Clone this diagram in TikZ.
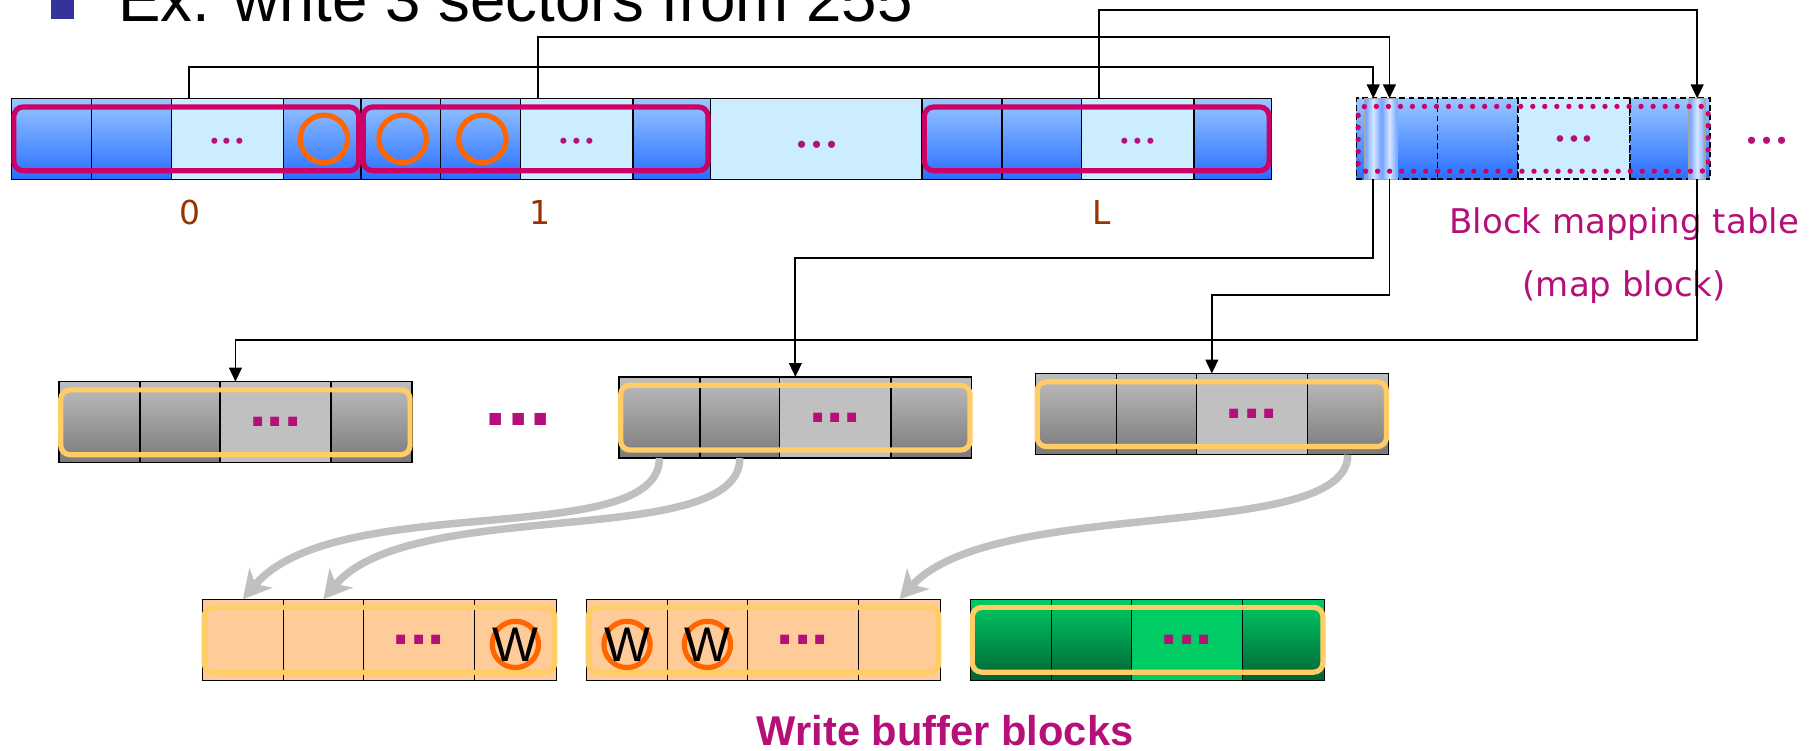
\documentclass[tikz,border=0pt]{standalone}
\usepackage{fontspec}
\setmainfont{Liberation Sans}
\newfontfamily\tahoma{DejaVu Sans}
\newfontfamily\serifdots{Liberation Serif}
\usetikzlibrary{arrows.meta,fit}

\definecolor{blueTop}{RGB}{153,199,255}
\definecolor{blueBot}{RGB}{40,110,255}
\definecolor{blueLite}{RGB}{204,236,255}
\definecolor{grayTop}{RGB}{190,190,190}
\definecolor{grayBot}{RGB}{122,122,122}
\definecolor{grayLite}{RGB}{192,192,192}
\definecolor{greenTop}{RGB}{0,204,102}
\definecolor{greenBot}{RGB}{0,100,50}
\definecolor{peach}{RGB}{255,204,153}
\definecolor{frameRed}{RGB}{204,0,102}
\definecolor{frameGold}{RGB}{255,204,102}
\definecolor{ringOrange}{RGB}{255,102,0}
\definecolor{plum}{RGB}{180,16,120}
\definecolor{rust}{RGB}{153,51,0}
\definecolor{bulletBlue}{RGB}{51,51,153}
\definecolor{slotEdge}{RGB}{110,160,255}
\definecolor{slotMid}{RGB}{215,232,255}

\tikzset{
  cell/.style={draw=black,line width=1.2pt,inner sep=0pt,outer sep=0pt,anchor=north west,minimum height=70pt},
  bcell/.style={cell,top color=blueTop,bottom color=blueBot},
  lcell/.style={cell,fill=blueLite},
  mbcell/.style={bcell,line width=1.6pt,dash pattern=on 5pt off 3pt},
  mlcell/.style={lcell,line width=1.6pt,dash pattern=on 5pt off 3pt},
  gcell/.style={cell,top color=grayTop,bottom color=grayBot},
  glcell/.style={cell,fill=grayLite},
  ocell/.style={cell,fill=peach},
  grcell/.style={cell,top color=greenTop,bottom color=greenBot},
  grlcell/.style={cell,fill=greenTop},
  slot/.style={draw=gray!70,line width=1.4pt,left color=slotEdge,right color=slotEdge,middle color=slotMid,
    minimum width=14pt,minimum height=70pt,inner sep=0pt,outer sep=0pt},
  redframe/.style={draw=frameRed,line width=4.5pt,rounded corners=8pt,inner xsep=-2pt,inner ysep=-7.5pt},
  dotframe/.style={draw=frameRed,line width=4.6pt,line cap=round,dash pattern=on 0pt off 10.4pt,
    rounded corners=6pt,inner xsep=-1.5pt,inner ysep=-7pt},
  goldframe/.style={draw=frameGold,line width=4.5pt,rounded corners=8pt,inner xsep=-1.5pt,inner ysep=-7pt},
  ring/.style={draw=ringOrange,line width=4.5pt},
  rdots/.style={font=\serifdots\fontsize{44}{44}\selectfont,text=plum,inner sep=0pt},
  sqdots/.style={font=\bfseries\fontsize{54}{54}\selectfont,text=plum,inner sep=0pt},
  numlbl/.style={anchor=base,inner sep=0pt,text=rust,font=\tahoma\fontsize{28.5}{28.5}\selectfont},
  maplbl/.style={anchor=base,inner sep=0pt,text=plum,font=\tahoma\fontsize{29.4}{29.4}\selectfont},
  wlbl/.style={inner sep=0pt,font=\fontsize{42}{42}\selectfont},
  link/.style={line width=1.6pt,-{Triangle[length=12pt,width=11pt]}},
  move/.style={draw=grayLite,line width=6.5pt,-{Stealth[length=24pt,width=26pt,inset=7pt]}}
}

\begin{document}
\begin{tikzpicture}[x=1pt,y=-1pt]
  \useasboundingbox (0,0) rectangle (1568,649);
  % title
  \fill[bulletBlue] (44,-4) rectangle (64,16);
  \node[anchor=base west,inner sep=0pt,font=\fontsize{55}{55}\selectfont] (title) at (102,19) {Ex. write 3 sectors from 255};

  % top row: data blocks 0, 1, ..., L
  \foreach \n/\x in {b0/10,b1/312,bL/797}
    \foreach \s/\u/\v/\k in {a/0/69/bcell,b/69/138/bcell,c/138/235/lcell,d/235/302/bcell}
      \node[\k,minimum width={(\v-\u)*1pt}] (\n-\s) at (\x+\u,85) {};
  \node[lcell,minimum width=183pt] (gap) at (614,85) {};
  \foreach \n in {b0,b1,bL} {
    \node[rdots] (\n-dots) at ([yshift=-2pt]\n-c.center) {...};
    \node[redframe,fit=(\n-a)(\n-d)] (\n-frame) {};
  }
  \node[rdots,font=\serifdots\fontsize{52}{52}\selectfont] (gap-dots) at (706,125) {...};
  \foreach \c in {b0-d,b1-a,b1-b}
    \draw[ring] ([xshift=1.5pt]\c.center) circle [radius=20.5pt];
  \node[numlbl] (lbl0) at (164,194) {0};
  \node[numlbl] (lbl1) at (467,194) {1};
  \node[numlbl] (lblL) at (952,194) {L};

  % block mapping table
  \foreach \a/\b/\k/\n in {1172.5/1242.5/mbcell/m1,1242.5/1312/mbcell/m2,1312/1409/mlcell/m3,1409/1478/mbcell/m4}
    \node[\k,minimum width={(\b-\a)*1pt}] (\n) at (\a,85) {};
  \node[rdots,font=\serifdots\fontsize{48}{48}\selectfont] (m3-dots) at (m3) {...};
  \node[slot] (s1) at (1187,120) {};
  \node[slot] (s2) at (1201,120) {};
  \node[slot] (s3) at (1467,120) {};
  \node[dotframe,fit=(m1)(m4)] (m-frame) {};
  \node[rdots,font=\serifdots\fontsize{52}{52}\selectfont] (more) at (1527,122) {...};
  \node[maplbl] (maptab) at (1404,202) {Block mapping table};
  \node[maplbl] (mapsub) at (1404,256) {(map block)};

  % gray data blocks
  \foreach \n/\x/\y in {g1/51/330,g2/535/326,g3/895/323}
    \foreach \s/\u/\v/\k in {a/0/70/gcell,b/70/139/gcell,c/139/235/glcell,d/235/305/gcell}
      \node[\k,minimum width={(\v-\u)*1pt}] (\n-\s) at (\x+\u,\y) {};
  \foreach \n in {g1,g2,g3}
    \node[fit=(\n-a)(\n-d),inner sep=0pt] (\n) {};
  \node[sqdots,font=\bfseries\fontsize{70}{70}\selectfont] (between) at (448,363) {...};

  % write buffer blocks
  \foreach \n/\x/\k/\kl in {o1/175/ocell/ocell,o2/507/ocell/ocell,gr/839/grcell/grlcell}
    \foreach \s/\u/\v/\t in {a/0/70/\k,b/70/139/\k,c/139/235/\kl,d/235/306/\k}
      \node[\t,minimum width={(\v-\u)*1pt}] (\n-\s) at (\x+\u,518) {};
  \foreach \n in {g1,g2,g3,o1,o2,gr} {
    \node[goldframe,fit=(\n-a)(\n-d)] (\n-frame) {};
    \node[sqdots] (\n-dots) at (\n-c) {...};
  }
  \foreach \c/\n in {o1-d/w1,o2-a/w2,o2-b/w3} {
    \draw[ring] ([yshift=-4pt]\c.center) circle [radius=20pt];
    \node[wlbl] (\n) at ([yshift=-4pt]\c.center) {W};
  }
  \node[anchor=base,inner sep=0pt,text=plum,font=\bfseries\fontsize{36}{36}\selectfont] (wbuf) at (817,644) {Write buffer blocks};

  % links
  \coordinate (p0) at (163,85);
  \coordinate (p1) at (465,85);
  \coordinate (pL) at (950,85);
  \draw[link] (p0) -- ++(0,-27) -| (s1.north);
  \draw[link] (p1) -- ++(0,-53) -| (s2.north);
  \draw[link] (pL) -- ++(0,-76) -| (s3.north);
  \draw[link] (s1.south) -- ++(0,68) -| (g2.north);
  \draw[link] (s2.south) -- ++(0,100) -| (g3.north);
  \draw[link] (s3.south) -- ++(0,139) -| (g1.north);

  % moves into the write buffer
  \draw[move] (g2-a.south) .. controls +(0,80) and +(80,-95) .. (o1-a.north);
  \draw[move] (g2-b.south) .. controls +(0,80) and +(75,-90) .. (o1-b.north);
  \draw[move] (g3-d.south) .. controls +(0,77) and +(82,-90) .. (o2-d.north);
\end{tikzpicture}
\end{document}
